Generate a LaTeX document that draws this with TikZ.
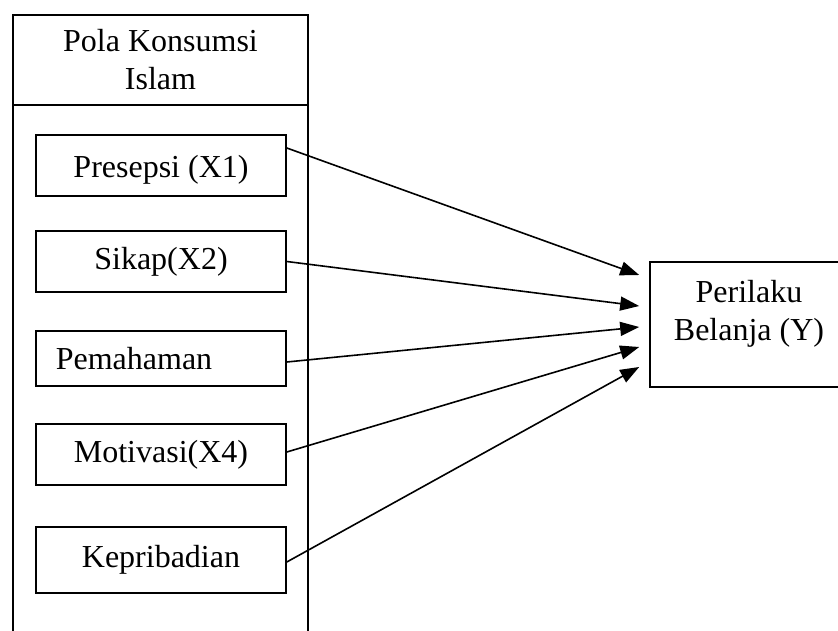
\documentclass[tikz,border=0pt]{standalone}
\usepackage{fontspec}
\setmainfont{Liberation Serif}
\usetikzlibrary{arrows.meta}

\begin{document}
\begin{tikzpicture}[x=1pt,y=-1pt,line width=1.6pt,
  box node/.style={rectangle,draw,font=\fontsize{32}{37}\selectfont,minimum width=250pt,minimum height=61pt,inner sep=0pt},
  head node/.style={rectangle,draw,font=\fontsize{32}{38}\selectfont,align=center,inner sep=0pt}]

  \clip (0,0) rectangle (838,631);

  % kotak Pola Konsumsi Islam
  \node[head node,minimum width=295pt,minimum height=90pt] (0) at (160.5,60) {Pola Konsumsi\\Islam};
  \draw (13,103) -- (13,640);
  \draw (308,103) -- (308,640);

  \node[box node,text height=30pt,text depth=5pt] (1) at (161,165.5) {Presepsi (X1)};
  \node[box node] (2) at (161,261.5) {Sikap(X2)};
  \node[box node,minimum height=55pt] (3) at (161,358.5) {Pemahaman\hspace*{54pt}};
  \node[box node] (4) at (161,454.5) {Motivasi(X4)};
  \node[box node,minimum height=66pt] (5) at (161,560) {Kepribadian};

  \node[head node,minimum width=198pt,minimum height=125pt,text height=70pt,text depth=39pt] (6) at (749,324.5) {Perilaku\\Belanja (Y)};

  \path[-{Triangle[length=19pt,width=14pt]}]
   ([yshift=17.5pt]1.east) edge ([xshift=-10pt,yshift=49.5pt]6.west)
   (2.east) edge ([xshift=-10pt,yshift=18.5pt]6.west)
   ([yshift=-3.5pt]3.east) edge ([xshift=-10pt,yshift=-2.5pt]6.west)
   ([yshift=2.5pt]4.east) edge ([xshift=-10pt,yshift=-22.5pt]6.west)
   ([yshift=-2pt]5.east) edge ([xshift=-10pt,yshift=-42.5pt]6.west);
\end{tikzpicture}
\end{document}
